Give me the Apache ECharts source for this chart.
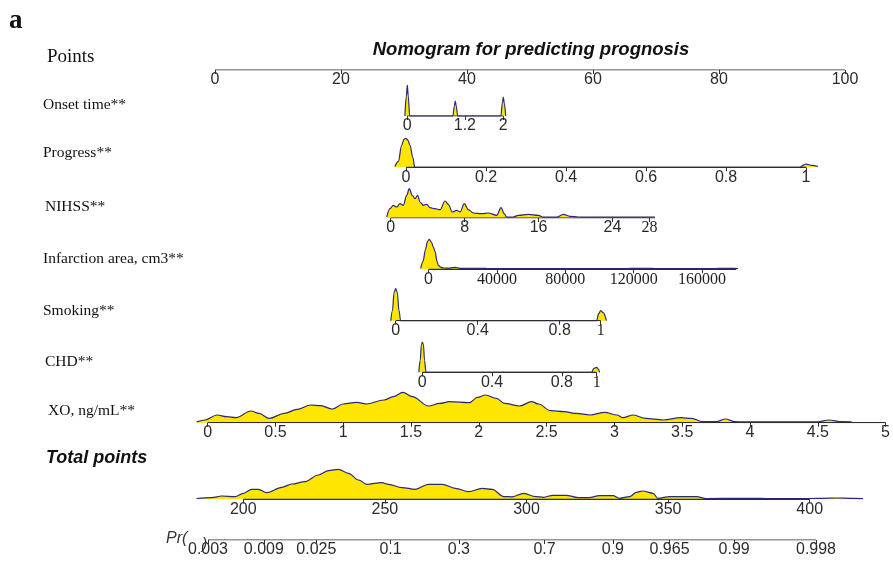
<!DOCTYPE html>
<html>
<head>
<meta charset="utf-8">
<title>Nomogram for predicting prognosis</title>
<script src="https://cdn.jsdelivr.net/npm/echarts@6/dist/echarts.min.js"></script>
<style>
  html, body { margin: 0; padding: 0; background: #fff; }
  #chart { width: 893px; height: 562px; }
</style>
</head>
<body>
<div id="chart"></div>
<script>
// ---------------- data ----------------
// Axis tick values for each scale of the nomogram
const pointsTicks   = [0, 20, 40, 60, 80, 100];
const onsetTicks    = [0, 1.2, 2];
const progressTicks = [0, 0.2, 0.4, 0.6, 0.8, 1];
const nihssTicks    = [0, 8, 16, 24, 28];
const infarctTicks  = [0, 40000, 80000, 120000, 160000];
const smokingTicks  = [0, 0.4, 0.8, 1];
const chdTicks      = [0, 0.4, 0.8, 1];
const xoTicks       = [0, 0.5, 1, 1.5, 2, 2.5, 3, 3.5, 4, 4.5, 5];
const totalTicks    = [200, 250, 300, 350, 400];
const prTicks       = [0.003, 0.009, 0.025, 0.1, 0.3, 0.7, 0.9, 0.965, 0.99, 0.998];

// Row labels
const rowNames = ['Onset time**', 'Progress**', 'NIHSS**', 'Infarction area, cm3**',
                  'Smoking**', 'CHD**', 'XO, ng/mL**'];

// Sample distributions (value, relative density) drawn above each scale
const onsetDensity = [
  [-0.05, 0], [-0.02, 20], [0, 31], [0.02, 20], [0.05, 0], [0.95, 0], [0.98, 10], [1, 15],
  [1.02, 10], [1.05, 0], [1.95, 0], [1.98, 13], [2, 19], [2.02, 13], [2.05, 0]
];
const progressDensity = [
  [-0.028, 0.8], [-0.019, 6], [-0.011, 22], [-0.005, 28], [0, 29], [0.005, 27], [0.01, 22],
  [0.017, 10], [0.022, 0], [0.985, 0], [0.995, 2.5], [1.0, 3.2], [1.015, 2], [1.03, 0.8]
];
const nihssDensity = [
  [-0.43, 1], [-0.08, 9.3], [0.28, 12.7], [0.65, 11], [1.0, 14.3], [1.36, 12.7], [1.73, 22.7],
  [2.01, 29.3], [2.34, 22.7], [2.63, 19.3], [2.92, 22.7], [3.17, 16], [3.53, 12.7], [3.9, 13.7],
  [4.25, 10.3], [4.79, 9.3], [5.34, 8.3], [5.88, 17], [6.23, 13.7], [6.67, 6], [7.14, 7.7],
  [7.5, 6], [7.97, 14.3], [8.4, 8.3], [8.94, 5], [9.85, 4.3], [10.56, 5], [11.47, 2.7],
  [11.94, 10.3], [12.29, 4.3], [12.55, 0.8], [13.27, 1], [13.81, 2.7], [14.89, 3.7],
  [15.97, 2.7], [16.52, 0.8], [17.97, 0.8], [18.68, 3.7], [19.4, 1.7], [20.3, 1], [21.4, 0.8],
  [28.25, 0.8], [28.6, 0.8]
];
const infarctDensity = [
  [-4560, 0.8], [-3200, 8], [-1750, 20], [-580, 28], [470, 30], [1750, 27], [2900, 22],
  [3800, 18], [5000, 8], [5700, 4], [7300, 2], [8700, 1.3], [12600, 1.2], [15500, 2],
  [18400, 1], [33000, 1], [36000, 0.6], [115000, 0.6], [118000, 1], [131000, 1],
  [133000, 0.6], [165000, 0.6], [170000, 1], [178000, 1], [181000, 0.8]
];
const smokingDensity = [
  [-0.024, 0], [-0.016, 10], [-0.008, 28], [0, 32], [0.008, 28], [0.016, 10], [0.024, 0],
  [0.98, 0], [0.99, 7], [1.0, 10], [1.012, 8], [1.028, 0]
];
const chdDensity = [
  [-0.02, 0], [-0.012, 12], [-0.005, 28], [0, 30], [0.006, 28], [0.013, 12], [0.021, 0],
  [0.97, 0], [0.985, 4], [1.0, 5], [1.01, 3], [1.017, 0]
];
const xoDensity = [
  [-0.08, 0.8], [-0.02, 2.7], [0.07, 7.7], [0.14, 6], [0.21, 5], [0.32, 11.7], [0.38, 9.3],
  [0.455, 4.3], [0.565, 9.3], [0.66, 13.3], [0.76, 17.7], [0.835, 17], [0.92, 13.7], [1.0, 18.7],
  [1.1, 20.3], [1.17, 18.7], [1.3, 22.7], [1.37, 26], [1.44, 30.3], [1.51, 26], [1.63, 16.7],
  [1.71, 19.3], [1.785, 21], [1.93, 20], [1.99, 25.3], [2.05, 27.7], [2.13, 24.3], [2.19, 19.3],
  [2.3, 16.7], [2.39, 21], [2.44, 18.7], [2.53, 12], [2.63, 11], [2.72, 9.3], [2.82, 7.7],
  [2.93, 10.3], [3.02, 7.7], [3.06, 5], [3.14, 7.7], [3.23, 4.3], [3.36, 2.7], [3.49, 5],
  [3.57, 4.3], [3.65, 1], [3.75, 1], [3.82, 3.7], [3.89, 1], [3.95, 0.8], [4.5, 0.8],
  [4.58, 2.7], [4.68, 1], [4.75, 0.8]
];
const totalDensity = [
  [183.5, 0.8], [188.9, 1.7], [192.4, 3.3], [197.1, 2.7], [200, 6], [203, 10], [205.3, 10],
  [208.3, 6.7], [213.6, 12], [217.1, 15.3], [221.8, 17.7], [226.5, 24.3], [230.1, 28.7],
  [233.6, 30], [237.1, 26], [240.7, 19.3], [243.6, 15], [248.9, 16.7], [251.3, 15], [256, 11.7],
  [260.7, 10], [265.4, 15], [270.2, 15], [274.9, 11], [279.6, 7.7], [284.3, 11], [287.9, 10],
  [292, 2.7], [295, 2.5], [299, 6], [303.2, 2.7], [306, 2], [309.3, 4], [314, 4], [318.2, 1.7],
  [322, 1.7], [325.8, 3.7], [330.5, 3.7], [332.9, 1], [336.4, 2.7], [338.8, 7], [341.1, 8.3],
  [344.7, 6], [346.4, 1], [350.6, 2.7], [356.4, 2.7], [360, 2.7], [363.5, 0.8], [375.3, 1],
  [380, 1], [385, 0.8], [400, 0.8], [404.7, 1], [409.4, 1.3], [415.3, 0.9], [418.8, 0.6]
];

// ---------------- layout ----------------
const logit = p => Math.log(p / (1 - p));
const SANS = "'Liberation Sans', Arial, sans-serif";
const SERIF = "'Liberation Serif', 'Times New Roman', serif";
const DENS_MAX = 32;     // density scale shared by all rows
const AXIS_COLOR = '#2e2e2e';
const LABEL_COLOR = '#2b2b2b';

// one strip per scale: pixel placement of the axis line (left, width) and its value range
const rows = [
  { key: 'points',   left: 215,   width: 630,   base: 70,    min: 0,   max: 100,    ticks: pointsTicks },
  { key: 'onset',    left: 407.3, width: 96,    base: 116,   min: 0,   max: 2,      ticks: onsetTicks,    density: onsetDensity },
  { key: 'progress', left: 406,   width: 400,   base: 167.3, min: 0,   max: 1,      ticks: progressTicks, density: progressDensity },
  { key: 'nihss',    left: 390.7, width: 264.3, base: 218,   min: 0,   max: 28.6,   ticks: nihssTicks,    density: nihssDensity,   serif: [28] },
  { key: 'infarct',  left: 428.5, width: 307.8, base: 269.3, min: 0,   max: 180000, ticks: infarctTicks,  density: infarctDensity, serif: [40000, 80000, 120000, 160000] },
  { key: 'smoking',  left: 395.7, width: 205,   base: 320.7, min: 0,   max: 1,      ticks: smokingTicks,  density: smokingDensity, serif: [1] },
  { key: 'chd',      left: 422.3, width: 174.4, base: 372.3, min: 0,   max: 1,      ticks: chdTicks,      density: chdDensity,     serif: [1] },
  { key: 'xo',       left: 207.7, width: 683.5, base: 422.7, min: 0,   max: 5,      ticks: xoTicks,       density: xoDensity },
  { key: 'total',    left: 243.3, width: 566.4, base: 499.3, min: 200, max: 400,    ticks: totalTicks,    density: totalDensity },
  { key: 'pr',       left: 208,   width: 608,   base: 540,   min: logit(prTicks[0]), max: logit(prTicks[prTicks.length - 1]),
    ticks: prTicks.map(logit), labels: prTicks }
];

const grids = [], xAxes = [], yAxes = [], series = [];

rows.forEach((r, i) => {
  // widen the value window so the density tails outside the axis line stay visible
  const pxPerUnit = r.width / (r.max - r.min);
  const xs = (r.density || []).map(d => d[0]);
  const viewMin = Math.min(r.min, ...xs);
  const viewMax = Math.max(r.max, ...xs);
  grids.push({
    left: r.left + (viewMin - r.min) * pxPerUnit,
    width: (viewMax - viewMin) * pxPerUnit,
    top: r.base - DENS_MAX, height: DENS_MAX, containLabel: false
  });
  const serifVals = r.serif || [];
  xAxes.push({
    type: 'value', gridIndex: i, min: viewMin, max: viewMax, position: 'bottom',
    axisLine: { show: false, onZero: false },
    axisTick: { show: true, inside: false, length: 4, customValues: r.ticks, lineStyle: { color: AXIS_COLOR, width: 1 } },
    axisLabel: {
      show: true, margin: 2, customValues: r.ticks, color: LABEL_COLOR,
      fontFamily: SANS, fontSize: 16,
      formatter: function (v) {
        if (r.labels) {
          // probability labels sit on a logit scale
          let best = 0;
          r.ticks.forEach((t, k) => { if (Math.abs(t - v) < Math.abs(r.ticks[best] - v)) best = k; });
          return String(r.labels[best]);
        }
        const s = String(Math.round(v * 1000) / 1000);
        return serifVals.some(t => Math.abs(t - v) < 1e-9) ? '{serif|' + s + '}' : s;
      },
      rich: { serif: { fontFamily: SERIF, fontSize: 16, color: '#1e1e1e' } }
    },
    splitLine: { show: false }
  });
  yAxes.push({ type: 'value', gridIndex: i, min: 0, max: DENS_MAX, show: false });
  if (r.density) {
    series.push({
      type: 'line', name: r.key, xAxisIndex: i, yAxisIndex: i, data: r.density,
      symbol: 'none', smooth: 0.35, smoothMonotone: 'x', clip: false, silent: true, z: 2,
      lineStyle: { color: '#2a2a78', width: 1.2 },
      areaStyle: { color: '#FFE600', opacity: 1 }
    });
  }
  // the scale's own axis line, spanning its value range
  series.push({
    type: 'line', name: r.key + '-axis', xAxisIndex: i, yAxisIndex: i,
    data: [[r.min, 0], [r.max, 0]], symbol: 'none', silent: true, z: 3,
    lineStyle: { color: AXIS_COLOR, width: 1.2 }
  });
});

// ---------------- text ----------------
const label = (text, x, y, font, extra) => ({
  type: 'text', x: x, y: y, silent: true,
  style: Object.assign({ text: text, font: font, fill: '#111', verticalAlign: 'middle', align: 'left' }, extra || {})
});
const rowLabelY = [105, 153, 207, 259, 311, 362, 411];
const rowLabelX = [43, 43, 45, 43, 43, 45, 48];

const graphics = [
  label('a', 9, 21, 'bold 27px ' + SERIF),
  label('Points', 47, 57, '19px ' + SERIF),
  label('Nomogram for predicting prognosis', 531, 50, 'italic bold 18.5px ' + SANS, { align: 'center' }),
  label('Total points', 46, 458, 'italic bold 18px ' + SANS),
  label('Pr(', 166, 539, 'italic 16px ' + SANS, { fill: '#333' }),
  label(')', 202, 545, 'italic 16px ' + SANS, { fill: '#333' })
];
rowNames.forEach((n, i) => graphics.push(label(n, rowLabelX[i], rowLabelY[i], '15.5px ' + SERIF)));

const chart = echarts.init(document.getElementById('chart'), null, { renderer: 'canvas' });
chart.setOption({
  backgroundColor: '#ffffff',
  animation: false,
  grid: grids,
  xAxis: xAxes,
  yAxis: yAxes,
  series: series,
  graphic: graphics
});
</script>
</body>
</html>
